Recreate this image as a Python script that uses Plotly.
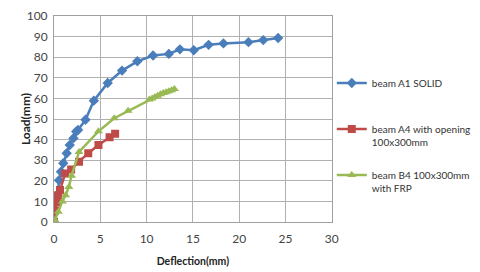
import plotly.graph_objects as go

# Beam A1 SOLID
a1_x = [0, 0.1, 0.3, 0.54, 0.75, 1.0, 1.37, 1.7, 2.1, 2.4, 2.6, 3.4, 4.3, 5.8, 7.35, 9.0, 10.7, 12.4, 13.6, 15.1, 16.7, 18.3, 21.0, 22.6, 24.2]
a1_y = [0, 6, 13, 20.3, 24.4, 28.5, 33.4, 37.4, 40.7, 43.9, 44.7, 49.6, 58.9, 67.5, 73.5, 78, 80.8, 81.6, 83.8, 83.4, 86.0, 86.7, 87.3, 88.3, 89.3]

# Beam A4 with opening 100x300mm
a4_x = [0, 0.1, 0.3, 0.46, 0.65, 1.2, 1.85, 2.7, 3.7, 4.8, 6.0, 6.6]
a4_y = [0, 5.5, 9.5, 13, 15.5, 23.5, 25.5, 29.3, 33.4, 37.4, 41.2, 42.8]

# Beam B4 100x300mm with FRP
b4_x = [0, 0.1, 0.46, 0.9, 1.25, 1.6, 1.9, 2.7, 4.8, 6.5, 8.0, 10.3, 10.6, 10.9, 11.2, 11.5, 11.8, 12.1, 12.4, 12.7, 13.0]
b4_y = [0, 1, 5, 10, 13, 17, 22.5, 34, 44, 50.4, 54, 59.5, 60, 60.7, 61.3, 62, 62.6, 63, 63.5, 64, 64.6]

x_ticks = [0, 5, 10, 15, 20, 25, 30]
y_ticks = [0, 10, 20, 30, 40, 50, 60, 70, 80, 90, 100]

fig = go.Figure()
fig.add_trace(go.Scatter(x=a1_x, y=a1_y, mode="lines+markers", name="beam A1 SOLID<br>&nbsp;",
                         line=dict(color="#4a7ebb", width=2.5),
                         marker=dict(symbol="diamond", size=8, color="#4a7ebb"),
                         legendgroup="a"))
fig.add_trace(go.Scatter(x=a4_x, y=a4_y, mode="lines+markers", name="beam A4 with opening<br>100x300mm",
                         line=dict(color="#be4b48", width=2.5),
                         marker=dict(symbol="square", size=8, color="#be4b48"),
                         legendgroup="b"))
fig.add_trace(go.Scatter(x=b4_x, y=b4_y, mode="lines+markers", name="beam B4 100x300mm<br>with FRP",
                         line=dict(color="#98b954", width=2.5),
                         marker=dict(symbol="triangle-up", size=8, color="#98b954"),
                         legendgroup="c"))

axis_common = dict(showgrid=True, gridcolor="#b0b0b0", gridwidth=1, showline=True,
                   linecolor="#a0a0a0", mirror=True, zeroline=False, ticks="", automargin=False,
                   tickfont=dict(family="Lato", size=12, color="#444"))
fig.update_xaxes(range=[0, 30], tickvals=x_ticks, ticklabelstandoff=6, **axis_common,
                 title=dict(text="<b>Deflection(mm)</b>", font=dict(family="Lato", size=10.5, color="#222"), standoff=12))
fig.update_yaxes(range=[0, 100], tickvals=y_ticks, ticklabelstandoff=3, **axis_common)

fig.add_annotation(text="<b>Load(mm)</b>", xref="paper", yref="paper", x=-0.104, y=0.5,
                   xanchor="center", yanchor="middle", textangle=-90, showarrow=False,
                   font=dict(family="Lato", size=12, color="#222"))

fig.update_layout(
    width=472, height=264,
    margin=dict(l=46, r=147, t=8, b=50),
    plot_bgcolor="white", paper_bgcolor="white",
    font=dict(family="Lato", size=11, color="#333"),
    legend=dict(xref="container", yref="container", x=0.686, y=0.765, xanchor="left", yanchor="top",
                tracegroupgap=17, itemwidth=30, valign="top",
                font=dict(family="Lato", size=10, color="#333"),
                bgcolor="rgba(0,0,0,0)"),
)
fig.write_html("out.html")
